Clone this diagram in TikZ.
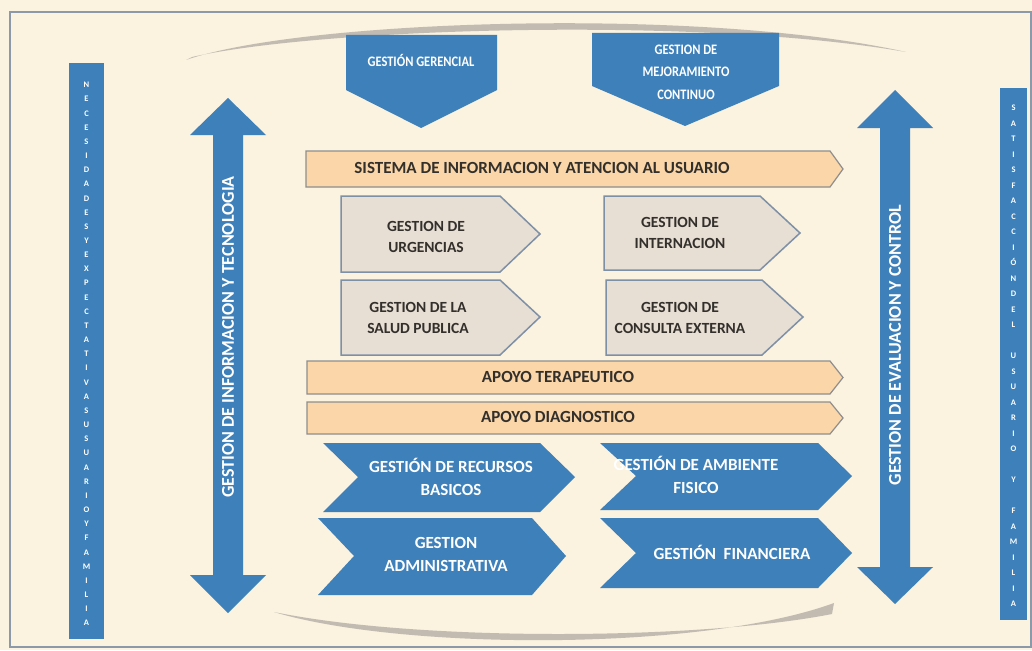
\documentclass[tikz,border=0pt]{standalone}
\usepackage{fontspec}
\setmainfont{Carlito}
\begin{document}
\begin{tikzpicture}[x=1pt,y=-1pt,
  bluefill/.style={fill=procblue,draw=none},
  peach/.style={fill=peachfill,draw=greyline,line width=1.2pt},
  lightbox/.style={fill=greyfill,draw=boxline,line width=1.5pt},
  toptext/.style={text=white,font=\bfseries\fontsize{14.5}{22.5}\selectfont\addfontfeature{FakeStretch=0.86},align=center,inner sep=0pt},
  wtext/.style={text=white,font=\bfseries\fontsize{17}{23}\selectfont,align=center,inner sep=0pt},
  dtext/.style={text=darktext,font=\bfseries\fontsize{17}{21}\selectfont,align=center,inner sep=0pt},
  gtext/.style={text=darktext,font=\bfseries\fontsize{15.5}{21}\selectfont,align=center,inner sep=0pt},
  vtext/.style={text=white,font=\bfseries\fontsize{18}{20}\selectfont,rotate=90,inner sep=0pt},
  barletters/.style={text=white,font=\bfseries\fontsize{8.5}{14.16}\selectfont,align=center,inner sep=0pt},
  barletterstwo/.style={text=white,font=\bfseries\fontsize{8.5}{15.5}\selectfont,align=center,inner sep=0pt},
  swoosh/.style={fill=swooshgrey,draw=none}]
\definecolor{bg}{HTML}{FBF2DF}
\definecolor{procblue}{HTML}{3D80BA}
\definecolor{peachfill}{HTML}{FAD6A8}
\definecolor{greyline}{HTML}{8E8E8E}
\definecolor{greyfill}{HTML}{E7DED4}
\definecolor{boxline}{HTML}{7E90A6}
\definecolor{darktext}{HTML}{33302C}
\definecolor{swooshgrey}{HTML}{C2BBB1}
\definecolor{framecol}{HTML}{8C99A8}
\useasboundingbox (0,0) rectangle (1032,650);
\fill[bg] (0,0) rectangle (1032,650);
\draw[framecol,line width=2pt] (10,12) rectangle (1031,647);

% side bars
\fill[procblue] (69,63) rectangle (104,639);
\fill[procblue] (1000,88) rectangle (1027,620);
\node[barletters] (need) at (86.5,354) {N\\E\\C\\E\\S\\I\\D\\A\\D\\E\\S\\Y\\E\\X\\P\\E\\C\\T\\A\\T\\I\\V\\A\\S\\U\\S\\U\\A\\R\\I\\O\\Y\\F\\A\\M\\I\\L\\I\\A};
\node[barletterstwo] (sat) at (1013.5,356) {S\\A\\T\\I\\S\\F\\A\\C\\C\\I\\Ó\\N\\D\\E\\L\\ \\U\\S\\U\\A\\R\\I\\O\\ \\Y\\ \\F\\A\\M\\I\\L\\I\\A};

% swooshes
\path[swoosh] (186,60) .. controls (300,20) and (700,6) .. (906,52)
  .. controls (700,16) and (320,28) .. (192,57) -- cycle;
\path[swoosh] (274,612) .. controls (400,650) and (700,652) .. (834,603)
  -- (832,614) .. controls (700,640) and (420,642) .. (274,612) -- cycle;

% double arrows
\path[bluefill] (228,98) -- (266,135) -- (243,135) -- (243,575) -- (266,575)
  -- (228,613) -- (190,575) -- (213,575) -- (213,135) -- (190,135) -- cycle;
\node[vtext] (infotec) at (228,337) {GESTION DE INFORMACION Y TECNOLOGIA};
\path[bluefill] (895,90) -- (933,128) -- (910,128) -- (910,567) -- (933,567)
  -- (895,604) -- (857,567) -- (880,567) -- (880,128) -- (857,128) -- cycle;
\node[vtext] (evalctl) at (895,345) {GESTION DE EVALUACION Y CONTROL};

% top pentagons
\path[bluefill] (346,35) -- (497,35) -- (497,90) -- (421,128) -- (346,90) -- cycle;
\node[toptext] (gerencial) at (421,60) {GESTIÓN GERENCIAL};
\path[bluefill] (592,33) -- (779,33) -- (779,86) -- (685,126) -- (592,86) -- cycle;
\node[toptext] (mejora) at (686,72) {GESTION DE\\MEJORAMIENTO\\CONTINUO};

% peach bars
\path[peach] (306,151) -- (830,151) -- (843,169) -- (830,187) -- (306,187) -- cycle;
\node[dtext] (sistema) at (542,168) {SISTEMA DE INFORMACION Y ATENCION AL USUARIO};
\path[peach] (307,361) -- (830,361) -- (843,377.5) -- (830,394) -- (307,394) -- cycle;
\node[dtext] (terap) at (558,377) {APOYO TERAPEUTICO};
\path[peach] (307,402) -- (830,402) -- (843,418) -- (830,434) -- (307,434) -- cycle;
\node[dtext] (diag) at (558,417) {APOYO DIAGNOSTICO};

% grey process boxes
\path[lightbox] (341,196) -- (500,196) -- (540,234) -- (500,272) -- (341,272) -- cycle;
\node[gtext] (urg) at (426,237) {GESTION DE\\URGENCIAS};
\path[lightbox] (604,196) -- (760,196) -- (800,233) -- (760,270) -- (604,270) -- cycle;
\node[gtext] (intern) at (680,233) {GESTION DE\\INTERNACION};
\path[lightbox] (341,280) -- (500,280) -- (540,317) -- (500,355) -- (341,355) -- cycle;
\node[gtext] (salud) at (418,318) {GESTION DE LA\\SALUD PUBLICA};
\path[lightbox] (606,280) -- (762,280) -- (803,317) -- (762,355) -- (606,355) -- cycle;
\node[gtext] (consulta) at (680,318) {GESTION DE\\CONSULTA EXTERNA};

% blue chevrons
\path[bluefill] (323,443) -- (540,443) -- (575,477) -- (540,512) -- (323,512) -- (358,477) -- cycle;
\node[wtext] (recursos) at (451,477) {GESTIÓN DE RECURSOS\\BASICOS};
\path[bluefill] (600,443) -- (818,443) -- (852,476) -- (818,510) -- (600,510) -- (636,476) -- cycle;
\node[wtext] (ambiente) at (696,475) {GESTIÓN DE AMBIENTE\\FISICO};
\path[bluefill] (318,518) -- (532,518) -- (566,556) -- (532,595) -- (318,595) -- (354,556) -- cycle;
\node[wtext] (admin) at (446,554) {GESTION\\ADMINISTRATIVA};
\path[bluefill] (600,518) -- (818,518) -- (852,553) -- (818,588) -- (600,588) -- (636,553) -- cycle;
\node[wtext] (financ) at (732,552) {GESTIÓN\ \ FINANCIERA};
\end{tikzpicture}
\end{document}
